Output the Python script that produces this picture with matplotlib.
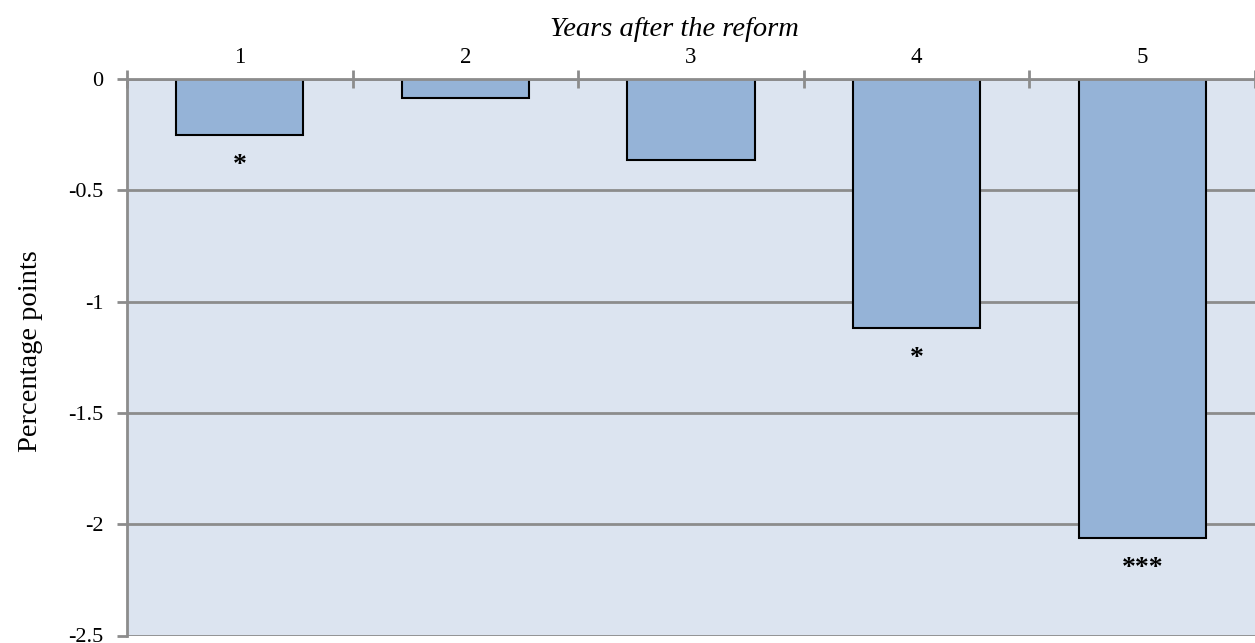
import matplotlib
matplotlib.use("Agg")
import matplotlib.pyplot as plt
import numpy as np

categories = ["1", "2", "3", "4", "5"]
values = [-0.25, -0.085, -0.365, -1.12, -2.06]
stars = ["*", "", "", "*", "***"]
yticks = [0, -0.5, -1, -1.5, -2, -2.5]
ytick_labels = ["0", "-0.5", "-1", "-1.5", "-2", "-2.5"]

plt.rcParams['font.family'] = ['Liberation Serif', 'DejaVu Serif']

fig = plt.figure(figsize=(12.55, 6.43), dpi=100)
ax = fig.add_axes([127/1255, 1 - 635.5/643, 1 - 127/1255, (635.5 - 79)/643])
ax.set_facecolor('#DCE4F0')

x = np.arange(len(categories))
ax.bar(x, values, width=0.563, color='#95B3D7', edgecolor='black', linewidth=1.5, zorder=3)

for xi, v, s in zip(x, values, stars):
    if s:
        ax.annotate(s, xy=(xi, v), xytext=(0, -22), textcoords='offset points',
                    ha='center', va='center', fontsize=20, fontweight='bold', zorder=4)

ax.set_ylim(-2.5, 0)
ax.set_xlim(-0.5, -0.5 + 1128/227.4)
ax.set_yticks(yticks)
ax.set_yticklabels(ytick_labels, fontsize=16)
ax.yaxis.grid(True, color='#8C8C8C', linewidth=2, zorder=1)
ax.set_axisbelow(True)

ax.xaxis.tick_top()
ax.set_xticks(x)
ax.set_xticklabels(categories, fontsize=16.5)
ax.tick_params(axis='x', which='major', length=0, pad=8)
ax.set_xticks(np.arange(-0.5, 5, 1.0), minor=True)
ax.tick_params(axis='x', which='minor', direction='inout', length=13, width=2, color='#8C8C8C')
ax.tick_params(axis='y', which='major', direction='out', length=7, width=2, color='#8C8C8C', pad=10)

for side in ['right', 'bottom']:
    ax.spines[side].set_visible(False)
for side in ['left', 'top']:
    ax.spines[side].set_color('#8C8C8C')
    ax.spines[side].set_linewidth(2)
ax.spines['top'].set_zorder(5)

ax.set_ylabel("Percentage points", fontsize=20.5)
ax.yaxis.set_label_coords(-(127 - 43)/1128, 0.511)

fig.text(674/1255, 1 - 30/643, "Years after the reform", ha='center', va='center',
         fontsize=20.5, style='italic')

fig.savefig("out.png", dpi=100)
